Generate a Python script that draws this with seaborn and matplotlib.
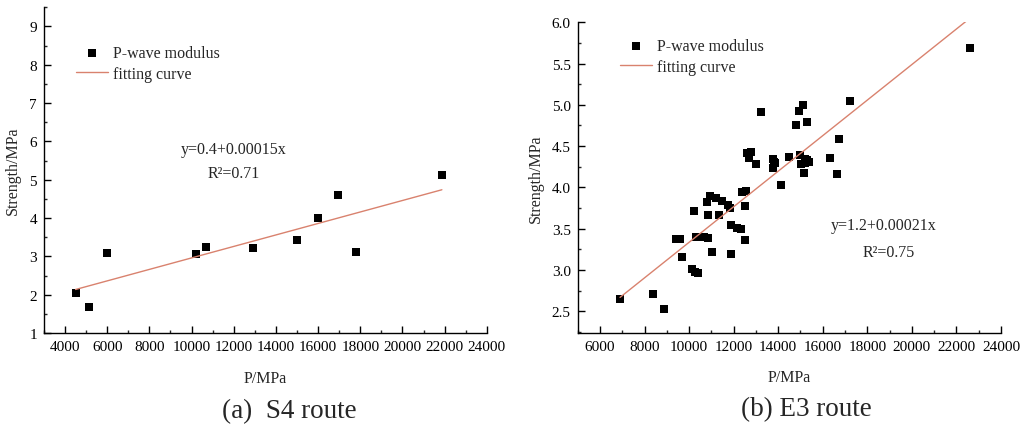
import numpy as np
import pandas as pd
import matplotlib
matplotlib.use("Agg")
import matplotlib.pyplot as plt
import seaborn as sns
from matplotlib.ticker import MultipleLocator

# ---- data ----
s4_p = [4500, 5140, 6000, 10200, 10700, 12900, 15000, 16000, 16950, 17800, 21870]
s4_strength = [2.05, 1.69, 3.09, 3.06, 3.25, 3.21, 3.43, 4.00, 4.60, 3.11, 5.12]

e3_p = [6900, 8390, 8870, 9420, 9580, 9660, 10140, 10250, 10400, 10215,
        10330, 10680, 10840, 10840, 10815, 10940, 11030, 11200, 11480, 11740,
        11815, 11340, 11900, 12130, 12340, 12530, 11880, 12390, 12560, 12500,
        12600, 12790, 12710, 13010, 13240, 13750, 13800, 13870, 13780, 14120,
        14480, 14820, 14940, 15130, 15280, 14970, 15030, 15180, 15300, 15400,
        15220, 15150, 16310, 16650, 16720, 17210, 22620]
e3_strength = [2.65, 2.71, 2.53, 3.37, 3.37, 3.16, 3.01, 2.98, 2.96, 3.72,
               3.40, 3.40, 3.39, 3.67, 3.82, 3.90, 3.22, 3.87, 3.83, 3.79,
               3.75, 3.67, 3.54, 3.51, 3.49, 3.36, 3.19, 3.94, 3.96, 3.78,
               4.42, 4.43, 4.36, 4.28, 4.91, 4.35, 4.31, 4.29, 4.23, 4.03,
               4.37, 4.76, 4.93, 5.00, 4.79, 4.39, 4.28, 4.35, 4.33, 4.31,
               4.29, 4.17, 4.36, 4.16, 4.59, 5.05, 5.69]

s4_equation = "y=0.4+0.00015x"
s4_r2 = "R\u00b2=0.71"
e3_equation = "y=1.2+0.00021x"
e3_r2 = "R\u00b2=0.75"
captions = ["(a)  S4 route", "(b) E3 route"]
x_label = "P/MPa"
y_label = "Strength/MPa"
legend_labels = ["P-wave modulus", "fitting curve"]

# ---- style ----
sns.set_theme(style="white")
plt.rcParams['font.family'] = ['Liberation Serif', 'DejaVu Serif']
plt.rcParams['axes.linewidth'] = 1.0
plt.rcParams['axes.edgecolor'] = 'black'

LINE_COLOR = '#d9826e'

fig = plt.figure(figsize=(10.27, 4.27), dpi=100)
ax1 = fig.add_axes([0.0428, 0.2178, 0.4312, 0.7628])
ax2 = fig.add_axes([0.5625, 0.2186, 0.4122, 0.7268])


def draw(ax, xs, ys):
    df = pd.DataFrame({"P": xs, "S": ys})
    sns.scatterplot(data=df, x="P", y="S", ax=ax, marker='s', color='black',
                    s=28, linewidth=0, label=legend_labels[0], legend=False)
    sns.regplot(data=df, x="P", y="S", ax=ax, scatter=False, ci=None,
                truncate=True, label=legend_labels[1],
                line_kws=dict(color=LINE_COLOR, lw=1.0))
    for side in ['top', 'right']:
        ax.spines[side].set_visible(False)
    ax.tick_params(which='major', direction='in', length=5, width=1.0,
                   pad=5, labelsize=11, colors='black', left=True, bottom=True)
    ax.tick_params(which='minor', direction='in', length=2.5, width=1.0,
                   left=True, bottom=True)
    ax.xaxis.set_major_locator(MultipleLocator(2000))
    ax.xaxis.set_minor_locator(MultipleLocator(1000))
    ax.set_xlabel(x_label, fontsize=11.5, labelpad=12)
    ax.set_ylabel(y_label, fontsize=11.5, labelpad=6)
    handles, labels = ax.get_legend_handles_labels()
    hd = dict(zip(labels, handles))
    return [hd[l] for l in legend_labels if l in hd], [l for l in legend_labels if l in hd]


h, l = draw(ax1, s4_p, s4_strength)
ax1.set_xlim(3000, 24000)
ax1.set_ylim(1, 9.5)
ax1.yaxis.set_major_locator(MultipleLocator(1))
ax1.yaxis.set_minor_locator(MultipleLocator(0.5))
ax1.legend(h, l, loc='upper left', bbox_to_anchor=(0.072, 0.885), frameon=False,
           fontsize=11.5, handlelength=2.0, handletextpad=0.3,
           labelspacing=0.3, borderpad=0, borderaxespad=0)
ax1.text(12000, 5.79, s4_equation, ha='center', va='center', fontsize=11.5)
ax1.text(12000, 5.18, s4_r2, ha='center', va='center', fontsize=11.5)

h, l = draw(ax2, e3_p, e3_strength)
ax2.set_xlim(5000, 24000)
ax2.set_ylim(2.24, 6.0)
ax2.yaxis.set_major_locator(MultipleLocator(0.5))
ax2.yaxis.set_minor_locator(MultipleLocator(0.25))
ax2.yaxis.set_major_formatter(matplotlib.ticker.FormatStrFormatter('%.1f'))
ax2.legend(h, l, loc='upper left', bbox_to_anchor=(0.1, 0.95), frameon=False,
           fontsize=11.5, handlelength=2.0, handletextpad=0.3,
           labelspacing=0.3, borderpad=0, borderaxespad=0)
ax2.text(18730, 3.54, e3_equation, ha='center', va='center', fontsize=11.5)
ax2.text(18960, 3.22, e3_r2, ha='center', va='center', fontsize=11.5)

fig.text(0.282, 0.036, captions[0], ha='center', va='center', fontsize=19.5)
fig.text(0.785, 0.040, captions[1], ha='center', va='center', fontsize=19.5)

fig.savefig("out.png", dpi=100, facecolor='white')
